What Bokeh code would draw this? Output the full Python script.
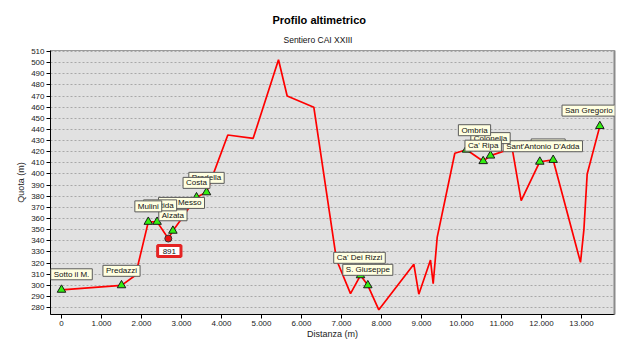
from bokeh.plotting import figure
from bokeh.models import Range1d, FixedTicker, LinearAxis, Label, Title
from bokeh.embed import file_html
from bokeh.resources import INLINE

title_text = "Profilo altimetrico"
subtitle_text = "Sentiero CAI XXIII"
x_label = "Distanza (m)"
y_label = "Quota (m)"

# profile (distance m, altitude m)
dist = [0, 1500, 1850, 2170, 2390, 2670, 2785, 3025, 3158, 3375, 3625, 4158, 4792,
        5425, 5642, 6308, 6875, 7225, 7475, 7658, 7933, 8808, 8933, 9225, 9292, 9392,
        9833, 10125, 10542, 10725, 11267, 11492, 11958, 12292, 12975, 13060, 13142, 13458]
quota = [296, 300, 309, 357, 357, 342, 349, 361, 368, 379, 383.5, 435, 432,
         502.6, 470, 460, 323, 292.6, 309, 300, 278, 319, 292, 322.7, 301.4, 343,
         418.6, 421.8, 411.5, 416.5, 423, 376, 411, 412.6, 320.6, 350, 400, 443]

# named stops
stop_names = ["Sotto il M.", "Predazzi", "Mulini", "Pontida", "Alzata", "San Messo", "Costa",
              "Pradella", "Ca' Dei Rizzi", "S. Giuseppe", "Ombria", "Ca' Ripa", "Colonella",
              "Sant'Antonio D'Adda", "Caprino", "San Gregorio"]
stop_dist = [0, 1500, 2170, 2390, 2785, 3025, 3375, 3625, 7475, 7658, 10125, 10542, 10725,
             11958, 12292, 13458]
stop_quota = [296, 300, 357, 357, 349, 361, 379, 383.5, 309, 300, 421.8, 411.5, 416.5,
              411, 412.6, 443]

# trail sign
sign_text = ["891"]
sign_dist = [2670]
sign_quota = [342]

x_ticks = [0, 1000, 2000, 3000, 4000, 5000, 6000, 7000, 8000, 9000, 10000, 11000, 12000, 13000]
x_tick_labels = ["0", "1.000", "2.000", "3.000", "4.000", "5.000", "6.000", "7.000", "8.000",
                 "9.000", "10.000", "11.000", "12.000", "13.000"]
y_ticks = [280, 290, 300, 310, 320, 330, 340, 350, 360, 370, 380, 390, 400, 410, 420, 430,
           440, 450, 460, 470, 480, 490, 500, 510]

# label placement styling (pixels)
label_dx = [10, 0, 0, 3, 0, -1, 0, 0, -1, 0, 8, 0, 0, 3, -5, -11]
label_gap = [9, 8, 9, 10, 9, 8, 8, 8, 11, 9, 13, 9, 11, 9, 9, 9]

FONT = "Liberation Sans"

p = figure(width=624, height=341, output_backend="svg", toolbar_location=None,
           x_range=Range1d(-275, 13825), y_range=Range1d(273.8, 510.9),
           min_border_left=50, min_border_right=10, min_border_top=50, min_border_bottom=24,
           background_fill_color="#e1e1e1", border_fill_color="white",
           outline_line_color="#9a9a9a", title=None)

p.add_layout(Title(text=subtitle_text, align="left", offset=233, text_font=FONT,
                   text_font_size="8.5px", text_font_style="normal", text_color="#111111",
                   standoff=12), "above")
p.add_layout(Title(text=title_text, align="left", offset=222, text_font=FONT,
                   text_font_size="11px", text_font_style="bold", text_color="#000000",
                   standoff=2), "above")

for ax in (p.xaxis[0], p.yaxis[0]):
    ax.axis_line_color = "#000000"
    ax.major_tick_line_color = "#000000"
    ax.major_tick_out = 4
    ax.major_tick_in = 0
    ax.minor_tick_line_color = None
    ax.major_label_text_font = FONT
    ax.major_label_text_font_size = "8px"
    ax.major_label_text_color = "#222222"
    ax.axis_label_text_font = FONT
    ax.axis_label_text_font_size = "9px"
    ax.axis_label_text_font_style = "normal"
    ax.axis_label_text_color = "#222222"

p.xaxis[0].major_label_standoff = 2
p.xaxis[0].axis_label_standoff = 0
p.yaxis[0].major_label_standoff = 2
p.yaxis[0].axis_label_standoff = 2

p.xaxis[0].ticker = FixedTicker(ticks=x_ticks)
p.xaxis[0].major_label_overrides = {t: l for t, l in zip(x_ticks, x_tick_labels)}
p.xaxis[0].axis_label = x_label
p.yaxis[0].ticker = FixedTicker(ticks=y_ticks)
p.yaxis[0].axis_label = y_label

right_axis = LinearAxis(ticker=FixedTicker(ticks=[]), major_label_text_font_size="0px",
                        axis_line_color="#8a8a8a", axis_line_width=2,
                        major_tick_line_color=None, minor_tick_line_color=None)
p.add_layout(right_axis, "right")

p.xgrid.grid_line_color = None
p.ygrid.ticker = FixedTicker(ticks=y_ticks)
p.ygrid.grid_line_color = "#a8a8a8"
p.ygrid.grid_line_dash = "2 2"

p.line(dist, quota, line_color="#ff0000", line_width=1.7)
p.scatter(stop_dist, stop_quota, marker="triangle", size=8.5, fill_color="#33ee11",
          line_color="#1a1a1a", line_width=1)
p.scatter(sign_dist, sign_quota, marker="circle", size=7, fill_color="#ee1111",
          line_color="#333333", line_width=1)

# labels: earlier stops drawn on top -> add in reverse order
for name, x, y, dx, gap in reversed(list(zip(stop_names, stop_dist, stop_quota, label_dx, label_gap))):
    p.add_layout(Label(x=x, y=y, text=name, x_offset=dx, y_offset=gap + 1,
                       text_align="center", text_baseline="bottom",
                       text_font=FONT, text_font_size="8px", text_color="#111111",
                       background_fill_color="#ffffe1", border_line_color="#5a5a5a",
                       border_line_width=1, padding=dict(x=3, y=1)))

for t, x, y in zip(sign_text, sign_dist, sign_quota):
    p.add_layout(Label(x=x, y=y, text=t, x_offset=1, y_offset=-7,
                       text_align="center", text_baseline="top",
                       text_font=FONT, text_font_size="8px", text_color="#111111",
                       background_fill_color="#ffffff", border_line_color="#e42424",
                       border_line_width=3, padding=dict(x=5, y=3)))

open("out.html", "w").write(file_html(p, INLINE))
